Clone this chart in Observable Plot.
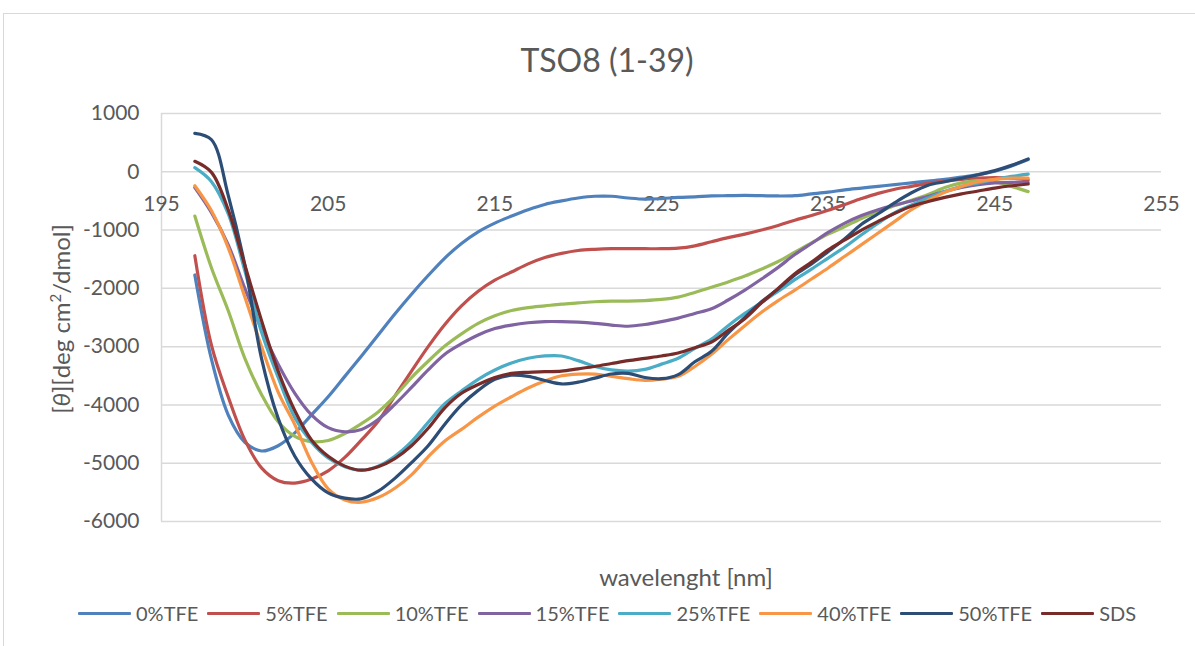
<!DOCTYPE html>
<html><head><meta charset="utf-8">
<script src="https://cdn.jsdelivr.net/npm/d3@7"></script>
<script src="https://cdn.jsdelivr.net/npm/@observablehq/plot@0.6"></script>
<style>
body{margin:0;background:#fff;font-family:Lato,"Open Sans",sans-serif;color:#595959}
#wrap{position:relative;width:1195px;height:646px;overflow:hidden}
#frame{position:absolute;left:3px;top:13px;width:1300px;height:700px;border-top:1px solid #d9d9d9;border-left:1px solid #d9d9d9}
#title{position:absolute;left:0;width:1214px;top:40px;text-align:center;font-size:32px;line-height:40px}
#chart{position:absolute;left:0;top:0}
#ytitle{position:absolute;left:60px;top:319px;transform:translate(-50%,-50%) rotate(-90deg);white-space:nowrap;font-size:24px}
#xtitle{position:absolute;left:0;width:1372px;top:562px;text-align:center;font-size:24px;line-height:30px}
#legend{position:absolute;left:78px;top:600px;display:flex;align-items:center;font-size:20px;line-height:26px;white-space:nowrap}
.item{display:flex;align-items:center;margin-right:9px}
.swatch{width:53px;height:3px;margin-right:5px;border-radius:1px}
</style></head>
<body><div id="wrap">
<div id="frame"></div>
<div id="chart"></div>
<div id="title">TSO8 (1-39)</div>
<div id="ytitle">[<i>θ</i>][deg cm<sup style="font-size:15px">2</sup>/dmol]</div>
<div id="xtitle">wavelenght [nm]</div>
<div id="legend"></div>
</div>
<script>
const wavelengths = [197,198,199,200,201,202,203,204,205,206,207,208,209,210,211,212,213,214,215,216,217,218,219,220,221,222,223,224,225,226,227,228,229,230,231,232,233,234,235,236,237,238,239,240,241,242,243,244,245,246,247];
const seriesNames = ["0%TFE","5%TFE","10%TFE","15%TFE","25%TFE","40%TFE","50%TFE","SDS"];
const seriesColors = ["#4F81BD","#C0504D","#9BBB59","#8064A2","#4BACC6","#F79646","#2C4D75","#772C2A"];
const xTicks = [195,205,215,225,235,245,255];
const yTicks = [1000,0,-1000,-2000,-3000,-4000,-5000,-6000];

const tfe0 = [-1770,-3220,-4170,-4640,-4790,-4700,-4480,-4170,-3860,-3510,-3160,-2800,-2440,-2100,-1780,-1480,-1230,-1030,-880,-760,-650,-560,-500,-450,-420,-420,-450,-470,-460,-440,-430,-415,-410,-405,-410,-415,-410,-380,-350,-310,-280,-250,-220,-190,-160,-130,-90,-50,10,100,210];
const tfe5 = [-1440,-2980,-3860,-4600,-5080,-5300,-5340,-5270,-5130,-4900,-4600,-4280,-3850,-3420,-3000,-2620,-2300,-2050,-1860,-1720,-1580,-1470,-1400,-1350,-1330,-1320,-1320,-1320,-1320,-1310,-1270,-1200,-1130,-1070,-1000,-920,-830,-750,-660,-560,-460,-370,-300,-250,-200,-160,-130,-110,-100,-110,-140];
const tfe10 = [-760,-1650,-2380,-3200,-3820,-4290,-4540,-4630,-4610,-4490,-4320,-4120,-3850,-3530,-3250,-2990,-2780,-2600,-2470,-2380,-2330,-2300,-2270,-2250,-2230,-2220,-2220,-2210,-2190,-2150,-2070,-1980,-1890,-1790,-1670,-1540,-1380,-1220,-1070,-940,-800,-690,-580,-490,-390,-270,-190,-150,-170,-250,-340];
const tfe15 = [-270,-700,-1250,-2000,-2700,-3300,-3800,-4170,-4390,-4460,-4420,-4250,-3990,-3700,-3400,-3130,-2950,-2800,-2690,-2630,-2590,-2570,-2570,-2580,-2600,-2630,-2650,-2620,-2570,-2510,-2430,-2350,-2200,-2030,-1840,-1640,-1420,-1230,-1040,-880,-750,-650,-570,-500,-420,-340,-270,-220,-190,-180,-180];
const tfe25 = [70,-170,-720,-1700,-2750,-3530,-4220,-4640,-4910,-5060,-5120,-5050,-4880,-4630,-4300,-3980,-3760,-3560,-3400,-3280,-3200,-3160,-3160,-3240,-3340,-3400,-3420,-3390,-3300,-3200,-3030,-2870,-2640,-2430,-2240,-2050,-1850,-1670,-1480,-1290,-1080,-880,-700,-570,-450,-340,-250,-190,-130,-80,-40];
const tfe40 = [-240,-670,-1300,-2150,-3000,-3780,-4340,-4980,-5440,-5630,-5670,-5590,-5430,-5200,-4890,-4620,-4420,-4210,-4020,-3860,-3710,-3590,-3500,-3470,-3470,-3510,-3550,-3580,-3560,-3510,-3340,-3130,-2880,-2640,-2410,-2210,-2030,-1840,-1650,-1450,-1250,-1050,-850,-650,-490,-350,-250,-170,-130,-110,-110];
const tfe50 = [660,550,-400,-1600,-3200,-4230,-4880,-5270,-5510,-5600,-5610,-5480,-5260,-4990,-4700,-4330,-4000,-3750,-3560,-3490,-3510,-3580,-3640,-3610,-3540,-3470,-3460,-3530,-3550,-3480,-3260,-3080,-2770,-2500,-2230,-2010,-1770,-1580,-1370,-1150,-900,-720,-530,-360,-230,-170,-110,-50,20,110,220];
const sds = [180,-10,-650,-1600,-2550,-3420,-4100,-4600,-4880,-5050,-5120,-5060,-4920,-4700,-4400,-4050,-3800,-3650,-3530,-3460,-3440,-3430,-3420,-3380,-3340,-3290,-3240,-3200,-3160,-3110,-3020,-2920,-2720,-2520,-2250,-2000,-1750,-1550,-1340,-1170,-1000,-850,-710,-590,-510,-440,-380,-330,-280,-240,-210];

const seriesValues = [tfe0,tfe5,tfe10,tfe15,tfe25,tfe40,tfe50,sds];
const rows = [];
seriesNames.forEach((name,i)=>{
  wavelengths.forEach((nm,j)=>rows.push({series:name, nm, v:seriesValues[i][j]}));
});

const plot = Plot.plot({
  width:1195, height:560,
  marginLeft:161, marginRight:34, marginTop:113, marginBottom:39,
  x:{domain:[195,255], axis:null},
  y:{domain:[-6000,1000], axis:null},
  color:{domain:seriesNames, range:seriesColors},
  style:{fontFamily:"Lato, 'Open Sans', sans-serif", background:"transparent", color:"#595959"},
  marks:[
    Plot.ruleY(yTicks, {stroke:"#d9d9d9", strokeWidth:1.5}),
    Plot.ruleX([195], {y1:-6000, y2:1000, stroke:"#d9d9d9", strokeWidth:1.5}),
    Plot.text(yTicks, {x:195, y:d=>d, text:d=>String(d), textAnchor:"end", dx:-22, fill:"#595959", fontSize:21}),
    Plot.text(xTicks, {x:d=>d, y:0, text:d=>String(d), dy:32, fill:"#595959", fontSize:21}),
    Plot.line(rows, {x:"nm", y:"v", z:"series", stroke:"series", strokeWidth:3.2, curve:"catmull-rom", strokeLinejoin:"round", strokeLinecap:"round"})
  ]
});
document.getElementById("chart").appendChild(plot);

const legend = document.getElementById("legend");
seriesNames.forEach((name,i)=>{
  const it = document.createElement("div"); it.className="item";
  const sw = document.createElement("span"); sw.className="swatch"; sw.style.background=seriesColors[i];
  const tx = document.createElement("span"); tx.textContent=name;
  it.appendChild(sw); it.appendChild(tx); legend.appendChild(it);
});
</script>
</body></html>
